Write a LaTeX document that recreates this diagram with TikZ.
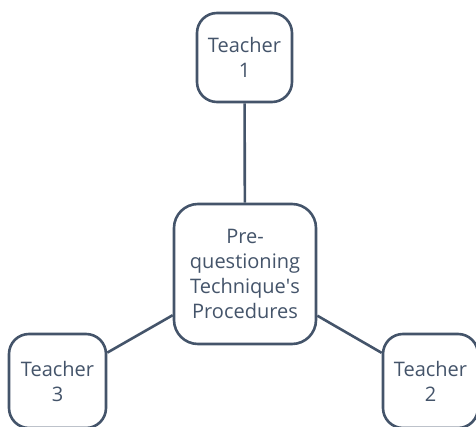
\documentclass[tikz,border=0pt]{standalone}
\usepackage{fontspec}
\setmainfont{Open Sans}[Ligatures={NoCommon}]
\definecolor{slate}{HTML}{44546A}
\begin{document}
\begin{tikzpicture}[x=1pt,y=-1pt,
  box/.style={draw=slate, line width=2.6pt, rounded corners=20pt, fill=white,
    text=slate, align=center, inner sep=0pt,
    font=\fontsize{20}{25}\selectfont},
  link/.style={draw=slate, line width=2.6pt}]
\useasboundingbox (0,0) rectangle (476,427);
\node[box, minimum width=95pt, minimum height=89pt] (t1) at (244.5,57.5) {Teacher\\1};
\node[box, minimum width=142pt, minimum height=140pt, rounded corners=24pt] (c) at (245,274) {Pre-\\questioning\\Technique\textquotesingle s\\Procedures};
\node[box, minimum width=97pt, minimum height=94pt] (t3) at (57.5,381) {Teacher\\3};
\node[box, minimum width=95pt, minimum height=94pt] (t2) at (430.5,381) {Teacher\\2};
\draw[link] (c) -- (t1);
\draw[link] (c) -- (t2);
\draw[link] (c) -- (t3);
\end{tikzpicture}
\end{document}
